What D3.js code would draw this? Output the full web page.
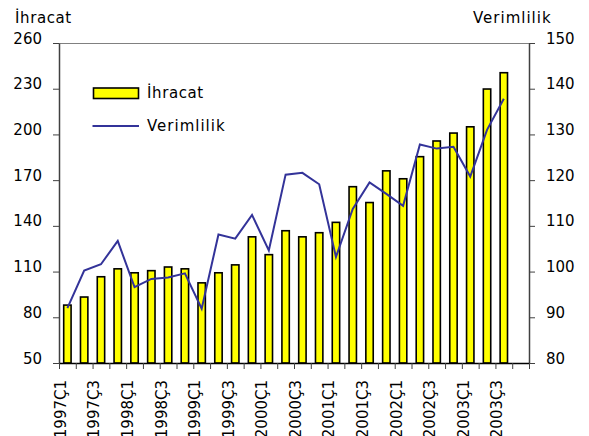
<!DOCTYPE html>
<html>
<head>
<meta charset="utf-8">
<script src="https://cdn.jsdelivr.net/npm/d3@7"></script>
<style>
  body { margin: 0; background: #fff; }
  text { font-family: "DejaVu Sans", sans-serif; fill: #000; }
</style>
</head>
<body>
<div id="chart"></div>
<script>
// quarters, 1997Ç1 .. 2003Ç4 (last quarter has no data)
const quarters = [];
for (let y = 1997; y <= 2003; y++) for (let q = 1; q <= 4; q++) quarters.push(y + "Ç" + q);

const ihracat = [88, 93.3, 106.6, 111.8, 109.2, 110.6, 113, 111.8, 102.6, 109.2, 114.4, 132.8, 121.1, 136.8,
  132.8, 135.5, 142.3, 165.7, 155.3, 176.1, 170.9, 185.4, 195.7, 200.9, 205, 229.8, 240.5, null];
const verimlilik = [92, 100.2, 101.6, 106.7, 96.6, 98.4, 98.7, 99.6, 91.9, 108.1, 107.2, 112.4, 104.6, 121.2,
  121.6, 119.1, 103.2, 113.7, 119.5, 117, 114.4, 127.8, 126.9, 127.3, 120.8, 131, 137.8, null];

const leftTicks = [50, 80, 110, 140, 170, 200, 230, 260];
const rightTicks = [80, 90, 100, 110, 120, 130, 140, 150];

const width = 589, height = 436;
const m = { left: 59, right: 60, top: 43, bottom: 73 };
const x0 = m.left, x1 = width - m.right, yTop = m.top, yBot = height - m.bottom;

const svg = d3.select("#chart").append("svg")
  .attr("width", width).attr("height", height);

const xIdx = d3.scaleLinear().domain([0, quarters.length]).range([x0, x1]);
const x = d3.scaleBand().domain(quarters).range([x0, x1]).paddingInner(0);
const yL = d3.scaleLinear().domain([50, 260]).range([yBot, yTop]);
const yR = d3.scaleLinear().domain([80, 150]).range([yBot, yTop]);

// top border
svg.append("line")
  .attr("x1", x0).attr("x2", x1).attr("y1", yTop + 0.5).attr("y2", yTop + 0.5)
  .attr("stroke", "#808080").attr("stroke-width", 1);

// bars
const barW = x.bandwidth() * 0.44;
svg.append("g").selectAll("rect")
  .data(quarters.map((q, i) => ({ q, v: ihracat[i] })).filter(d => d.v != null))
  .join("rect")
  .attr("x", d => x(d.q) + x.bandwidth() / 2 - barW / 2)
  .attr("width", barW)
  .attr("y", d => yL(d.v))
  .attr("height", d => yBot - yL(d.v))
  .attr("fill", "#ffff00")
  .attr("stroke", "#000")
  .attr("stroke-width", 1.6);

// productivity line
const line = d3.line()
  .defined(d => d.v != null)
  .x(d => x(d.q) + x.bandwidth() / 2)
  .y(d => yR(d.v));
svg.append("path")
  .datum(quarters.map((q, i) => ({ q, v: verimlilik[i] })))
  .attr("d", line)
  .attr("fill", "none")
  .attr("stroke", "#333399")
  .attr("stroke-width", 2);

// axes
const gl = svg.append("g").attr("transform", `translate(${x0},0)`)
  .call(d3.axisLeft(yL).tickValues(leftTicks).tickSize(6).tickPadding(11).tickSizeOuter(0));
const gr = svg.append("g").attr("transform", `translate(${x1},0)`)
  .call(d3.axisRight(yR).tickValues(rightTicks).tickSize(6).tickPadding(11).tickSizeOuter(0));
[gl, gr].forEach(g => {
  g.select(".domain").attr("stroke", "#404040").attr("stroke-width", 1.5);
  g.selectAll(".tick line").attr("stroke", "#404040");
  g.selectAll("text").attr("dy", "0").attr("font-size", 15)
    .style("font-family", "DejaVu Sans, sans-serif");
});

const gb = svg.append("g").attr("transform", `translate(0,${yBot})`)
  .call(d3.axisBottom(xIdx).tickValues(d3.range(quarters.length + 1)).tickFormat("").tickSize(6).tickSizeOuter(0));
gb.select(".domain").attr("stroke", "#000").attr("stroke-width", 1.5);
gb.selectAll(".tick line").attr("stroke", "#404040");

// quarter labels, every other one
svg.append("g").selectAll("text")
  .data(quarters.filter((q, i) => i % 2 === 0))
  .join("text")
  .attr("transform", d => `translate(${x(d) + x.bandwidth() / 2 - 1.5},${yBot + 17}) rotate(-90)`)
  .attr("text-anchor", "end")
  .attr("font-size", 15)
  .text(d => d);

// axis titles
svg.append("text").attr("x", 15).attr("y", 23).attr("font-size", 15)
  .attr("letter-spacing", 0.6).text("İhracat");
svg.append("text").attr("x", 473).attr("y", 23).attr("font-size", 15)
  .attr("letter-spacing", 1).text("Verimlilik");

// legend
const lg = svg.append("g");
lg.append("rect").attr("x", 93.5).attr("y", 88).attr("width", 45).attr("height", 10.5)
  .attr("fill", "#ffff00").attr("stroke", "#000").attr("stroke-width", 1.6);
lg.append("text").attr("x", 147).attr("y", 97.5).attr("font-size", 15)
  .attr("letter-spacing", 0.6).text("İhracat");
lg.append("line").attr("x1", 92.5).attr("x2", 139).attr("y1", 126).attr("y2", 126)
  .attr("stroke", "#333399").attr("stroke-width", 2);
lg.append("text").attr("x", 147).attr("y", 131).attr("font-size", 15)
  .attr("letter-spacing", 1).text("Verimlilik");
</script>
</body>
</html>
